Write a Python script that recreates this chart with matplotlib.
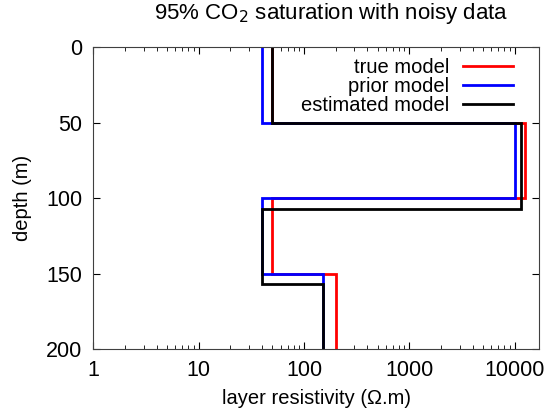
import matplotlib
matplotlib.use("Agg")
import matplotlib.pyplot as plt
import numpy as np

plt.rcParams["font.family"] = ["Liberation Sans", "DejaVu Sans"]

# layer models: resistivity (ohm.m) per layer, and layer boundaries (m)
true_res = [50, 12500, 50, 200]
true_bnd = [0, 50, 100, 150, 200]
prior_res = [40, 10000, 40, 150]
prior_bnd = [0, 50, 100, 150, 200]
est_res = [50, 11500, 40, 152]
est_bnd = [0, 50, 107, 157, 200]

def profile(res, bnd):
    x = np.repeat(res, 2)
    y = np.column_stack([bnd[:-1], bnd[1:]]).ravel()
    return x, y

FS = 15.5
LFS = 14.5

fig = plt.figure(figsize=(5.46, 4.13), dpi=100)
ax = fig.add_axes([0.171, 0.155, 0.816, 0.731])

for res, bnd, col, lab in [(true_res, true_bnd, "red", "true model"),
                           (prior_res, prior_bnd, "blue", "prior model"),
                           (est_res, est_bnd, "black", "estimated model")]:
    x, y = profile(res, bnd)
    ax.plot(x, y, color=col, lw=2.0, label=lab, solid_joinstyle="miter")

ax.set_xscale("log")
ax.set_xlim(1, 17000)
ax.set_ylim(200, 0)
ax.set_yticks([0, 50, 100, 150, 200])
ax.set_xticks([1, 10, 100, 1000, 10000])
ax.set_xticklabels(["1", "10", "100", "1000", "10000"])
ax.tick_params(which="both", direction="in", top=True, right=True, labelsize=FS, pad=8)
ax.tick_params(which="major", length=5)
ax.tick_params(which="minor", length=3)
for s in ax.spines.values():
    s.set_color("#404040")

ax.set_xlabel("layer resistivity (\u03a9.m)", fontsize=LFS, labelpad=6)
ax.set_ylabel("depth (m)", fontsize=LFS, labelpad=10)
fig.text(331 / 546, 1 - 14 / 413, "95% CO$_2$ saturation with noisy data",
         fontsize=16, ha="center", va="center")

ax.legend(loc="upper right", frameon=False, markerfirst=False, fontsize=LFS,
          handlelength=2.45, handletextpad=0.7, labelspacing=0.0,
          borderaxespad=0.5, borderpad=0.4,
          bbox_to_anchor=(1 - 8 / 445.5, 1 + 7 / 302))

plt.savefig("out.png", dpi=100)
